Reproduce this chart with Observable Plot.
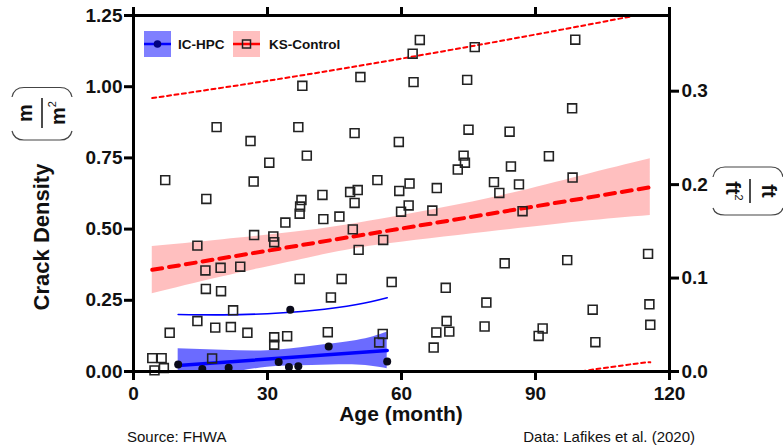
<!DOCTYPE html>
<html><head><meta charset="utf-8">
<script src="https://cdn.jsdelivr.net/npm/d3@7"></script>
<script src="https://cdn.jsdelivr.net/npm/@observablehq/plot@0.6"></script>
<style>
body{margin:0;background:#fff;font-family:"Liberation Sans",Arial,sans-serif;}
#chart{width:783px;height:427px;}
#cap{position:relative;width:783px;height:20px;font-size:15px;color:#111;line-height:20px;}
#cap .l{position:absolute;left:127px;top:0;}
#cap .r{position:absolute;right:88px;top:0;}
</style></head><body>
<div id="chart"></div>
<div id="cap"><span class="l">Source: FHWA</span><span class="r">Data: Lafikes et al. (2020)</span></div>
<script>
// ---- KS-Control observations (age in months, crack density m/m2)
const ksAge = [7.1,16.3,18.6,26.2,30.4,26.9,36.9,38.8,37.8,50.8,49.5,54.6,50.2,48.5,42.3,37.6,59.4,59.5,64.1,62.5,76.4,98.9,62.7,74.7,98.2,75.0,84.2,73.9,74.2,72.6,93.0,84.5,80.7,86.3,98.3,61.8,67.9,81.9,37.3,37.2,34.0,42.5,46.1,49.5,61.6,59.9,66.9,27.0,31.3,31.5,14.3,49.1,50.4,55.9,87.1,16.1,19.5,23.9,16.2,19.6,37.2,46.6,57.8,44.2,83.1,97.1,115.2,22.3,69.9,79.0,102.8,115.5,14.3,18.3,21.8,25.5,8.1,31.5,34.4,31.5,43.5,55.8,55.0,70.1,67.8,70.7,67.2,78.6,91.6,90.7,103.4,115.7,4.2,6.3,17.6,4.7,6.8];
const ksDensity = [0.672,0.606,0.858,0.809,0.733,0.667,0.858,0.758,1.003,1.034,0.837,0.672,0.637,0.630,0.620,0.602,0.806,0.634,1.164,1.116,1.139,1.165,1.016,1.024,0.924,0.849,0.842,0.758,0.733,0.709,0.756,0.720,0.665,0.657,0.681,0.660,0.644,0.627,0.579,0.554,0.523,0.535,0.544,0.592,0.583,0.561,0.565,0.479,0.474,0.454,0.442,0.499,0.427,0.462,0.563,0.355,0.364,0.368,0.290,0.282,0.325,0.325,0.314,0.260,0.380,0.391,0.413,0.215,0.294,0.242,0.217,0.236,0.177,0.154,0.156,0.136,0.136,0.120,0.124,0.094,0.138,0.132,0.102,0.177,0.137,0.140,0.084,0.158,0.151,0.125,0.103,0.164,0.047,0.047,0.046,0.004,0.012];

// ---- IC-HPC observations
const hpcAge = [10.0,15.4,21.3,35.1,32.5,34.8,36.9,43.7,56.8];
const hpcDensity = [0.025,0.009,0.013,0.217,0.033,0.016,0.018,0.088,0.035];

// ---- KS-Control regression fit, confidence band, prediction band
const ksFitAge = [4.2,115.7];
const ksFitValue = [0.357,0.647];
const ksBandAge = [4.2,20,39,55,79,100,115.7];
const ksBandLow = [0.273,0.333,0.398,0.444,0.489,0.526,0.548];
const ksBandHigh = [0.439,0.463,0.495,0.534,0.606,0.686,0.747];
const ksPredAge = [4.2,38.5,78.8,109.8,115.7];
const ksPredHigh = [0.960,1.042,1.151,1.242,1.262];
const ksPredLow = [-0.246,-0.150,-0.049,0.022,0.032];

// ---- IC-HPC regression fit, confidence band, upper prediction
const hpcFitAge = [10,56.8];
const hpcFitValue = [0.021,0.074];
const hpcBandAge = [10,20,30,40,50,56.8];
const hpcBandLow = [-0.038,-0.011,0.015,0.021,0.023,0.010];
const hpcBandHigh = [0.080,0.075,0.073,0.089,0.109,0.138];
const hpcPredAge = [10,20,30,40,50,56.8];
const hpcPredHigh = [0.200,0.199,0.203,0.214,0.235,0.259];

// ---- axes
const xTicks = [0,30,60,90,120];
const yTicks = [0,0.25,0.5,0.75,1.0,1.25];
const ftTicks = [0,0.1,0.2,0.3];   // ft/ft2
const M_PER_FT = 0.3048;

const ks = ksAge.map((a,i)=>({age:a, v:ksDensity[i]}));
const hpc = hpcAge.map((a,i)=>({age:a, v:hpcDensity[i]}));
const ksFit = ksFitAge.map((a,i)=>({age:a, v:ksFitValue[i]}));
const ksBand = ksBandAge.map((a,i)=>({age:a, lo:ksBandLow[i], hi:ksBandHigh[i]}));
const ksPred = ksPredAge.map((a,i)=>({age:a, lo:ksPredLow[i], hi:ksPredHigh[i]}));
const hpcFit = hpcFitAge.map((a,i)=>({age:a, v:hpcFitValue[i]}));
const hpcBand = hpcBandAge.map((a,i)=>({age:a, lo:hpcBandLow[i], hi:hpcBandHigh[i]}));
const hpcPred = hpcPredAge.map((a,i)=>({age:a, v:hpcPredHigh[i]}));
const ftPos = ftTicks.map(t => t / M_PER_FT);

const RED = "#ff0000", BLUE = "#0000ff";

const chart = Plot.plot({
  width: 783, height: 427,
  marginLeft: 133, marginRight: 114, marginTop: 15, marginBottom: 56,
  x: {domain: [0,120]},
  y: {domain: [0,1.25]},
  style: {fontFamily: '"Liberation Sans", Arial, sans-serif', fontSize: "19px", fontWeight: "bold", color: "#111", background: "#fff", overflow: "visible"},
  marks: [
    Plot.areaY(ksBand, {x:"age", y1:"lo", y2:"hi", fill:RED, fillOpacity:0.25, curve:"natural", clip:true}),
    Plot.areaY(hpcBand, {x:"age", y1:"lo", y2:"hi", fill:BLUE, fillOpacity:0.58, curve:"natural", clip:true}),
    Plot.line(ksPred, {x:"age", y:"hi", stroke:RED, strokeWidth:2, strokeDasharray:"4,3.5", curve:"natural", clip:true}),
    Plot.line(ksPred, {x:"age", y:"lo", stroke:RED, strokeWidth:2, strokeDasharray:"4,3.5", curve:"natural", clip:true}),
    Plot.line(ksFit, {x:"age", y:"v", stroke:RED, strokeWidth:4, strokeDasharray:"10,7", clip:true}),
    Plot.line(hpcPred, {x:"age", y:"v", stroke:BLUE, strokeWidth:1.6, curve:"natural", clip:true}),
    Plot.line(hpcFit, {x:"age", y:"v", stroke:BLUE, strokeWidth:3.5, clip:true}),
    Plot.dot(ks, {x:"age", y:"v", symbol:"square", r:5, stroke:"#222", strokeWidth:1.6, fill:"none"}),
    Plot.dot(hpc, {x:"age", y:"v", r:4, fill:"#0a0a1a", stroke:"none"}),
    Plot.frame({stroke:"#000", strokeWidth:3}),
    Plot.axisY(yTicks, {anchor:"left", tickSize:9, tickPadding:2, strokeWidth:3, stroke:"#000", tickFormat:d3.format(".2f"), label:null, fontSize:19, fontWeight:"bold"}),
    Plot.axisY(ftPos, {anchor:"right", tickSize:9, tickPadding:3, strokeWidth:3, stroke:"#000", tickFormat:d => (d*M_PER_FT).toFixed(1), label:null, fontSize:19, fontWeight:"bold"}),
    Plot.axisX(xTicks, {anchor:"bottom", tickSize:9, tickPadding:6, strokeWidth:3, stroke:"#000", label:null, fontSize:19, fontWeight:"bold"}),
    Plot.axisX(xTicks, {anchor:"top", tickSize:9, strokeWidth:3, stroke:"#000", tickFormat:() => "", label:null})
  ]
});
document.getElementById("chart").appendChild(chart);

// ---- annotations: legend, axis titles
const svg = d3.select(chart);
const F = '"Liberation Sans", Arial, sans-serif';
const lg = svg.append("g").style("font-family", F).style("font-weight", "bold").style("font-size", "13.5px").attr("fill", "#111").attr("text-anchor","start");
lg.append("rect").attr("x",144).attr("y",31).attr("width",27).attr("height",26).attr("fill",BLUE).attr("fill-opacity",0.5);
lg.append("line").attr("x1",144).attr("x2",171).attr("y1",44).attr("y2",44).attr("stroke",BLUE).attr("stroke-width",2.5);
lg.append("circle").attr("cx",157.5).attr("cy",44).attr("r",3.8).attr("fill","#000080");
lg.append("text").attr("x",178).attr("y",49).attr("text-anchor","start").text("IC-HPC");
lg.append("rect").attr("x",233).attr("y",31).attr("width",27).attr("height",26).attr("fill",RED).attr("fill-opacity",0.25);
lg.append("line").attr("x1",233).attr("x2",260).attr("y1",44).attr("y2",44).attr("stroke",RED).attr("stroke-width",2.5);
lg.append("rect").attr("x",242.5).attr("y",40).attr("width",8).attr("height",8).attr("fill","none").attr("stroke","#222").attr("stroke-width",1.5);
lg.append("text").attr("x",269).attr("y",49).attr("text-anchor","start").text("KS-Control");

const t = svg.append("g").style("font-family", F).style("font-weight", "bold").attr("fill", "#111");
t.append("text").attr("x",401).attr("y",421).attr("text-anchor","middle").style("font-size","21px").text("Age (month)");
t.append("text").attr("transform","translate(41,237) rotate(-90)").attr("text-anchor","middle").attr("dy","0.35em").style("font-size","22px").text("Crack Density");

// left unit (m / m2)
const lu = t.append("g").attr("transform","translate(42,113) rotate(-90)").style("font-size","20px");
lu.append("text").attr("x",0).attr("y",-17).attr("dy","0.35em").attr("text-anchor","middle").text("m");
const lden = lu.append("text").attr("x",0).attr("y",16).attr("dy","0.35em").attr("text-anchor","middle");
lden.append("tspan").text("m");
lden.append("tspan").style("font-size","11px").style("font-weight","normal").attr("dy","-0.8em").text("2");
lu.append("line").attr("x1",-15).attr("x2",15).attr("y1",0).attr("y2",0).attr("stroke","#111").attr("stroke-width",1.5);
t.append("path").attr("d","M12,97 Q14,87.5 24,87.5 L60,87.5 Q70,87.5 72,97").attr("fill","none").attr("stroke","#444").attr("stroke-width",1.2);
t.append("path").attr("d","M12,131 Q14,140 24,140 L60,140 Q70,140 72,131").attr("fill","none").attr("stroke","#444").attr("stroke-width",1.2);

// right unit (ft / ft2)
const ru = t.append("g").attr("transform","translate(750,191) rotate(90)").style("font-size","20px");
ru.append("text").attr("x",0).attr("y",-19).attr("dy","0.35em").attr("text-anchor","middle").text("ft");
const rden = ru.append("text").attr("x",0).attr("y",17).attr("dy","0.35em").attr("text-anchor","middle");
rden.append("tspan").text("ft");
rden.append("tspan").style("font-size","11px").style("font-weight","normal").attr("dy","-0.8em").text("2");
ru.append("line").attr("x1",-12).attr("x2",12).attr("y1",0).attr("y2",0).attr("stroke","#111").attr("stroke-width",1.5);
t.append("path").attr("d","M713,177 Q715,167 725,167 L771,167 Q781,167 783,177").attr("fill","none").attr("stroke","#444").attr("stroke-width",1.2);
t.append("path").attr("d","M713,208 Q715,215 725,215 L771,215 Q781,215 783,208").attr("fill","none").attr("stroke","#444").attr("stroke-width",1.2);
</script></body></html>
